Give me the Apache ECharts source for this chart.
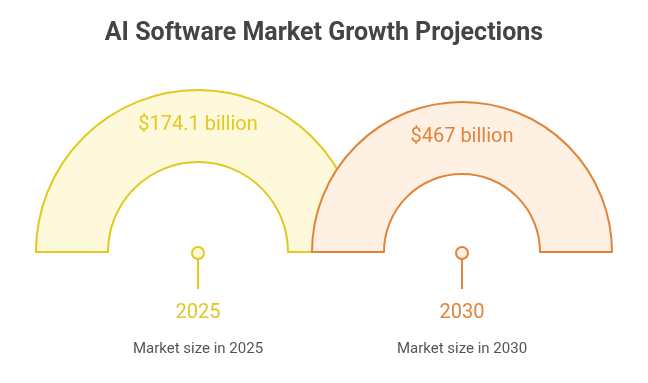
<!DOCTYPE html>
<html>
<head>
<meta charset="utf-8">
<script src="https://cdn.jsdelivr.net/npm/echarts@6/dist/echarts.min.js"></script>
<style>
html,body{margin:0;padding:0;background:#fff;}
#chart{width:648px;height:383px;}
</style>
</head>
<body>
<div id="chart"></div>
<script>
// ---- data ----
const years = ['2025', '2030'];
const marketValues = [174.1, 467];
const valueLabels = ['$174.1 billion', '$467 billion'];
const descriptions = ['Market size in 2025', 'Market size in 2030'];

// ---- styling / layout ----
const strokeColors = ['#E2C820', '#E0843A'];
const fillColors = ['#FEF9DA', '#FEF0E3'];
const centersX = [198, 462];
const baseY = 252;
const radii = [[90, 162], [78, 150]];
const font = 'Roboto, "Noto Sans", sans-serif';

const chart = echarts.init(document.getElementById('chart'), null, {renderer: 'canvas'});

const series = years.map((y, i) => ({
  type: 'pie',
  name: y,
  silent: true,
  animation: false,
  center: [centersX[i], baseY],
  radius: radii[i],
  startAngle: 180,
  endAngle: 0,
  z: 2 + i,
  itemStyle: {color: fillColors[i], borderColor: strokeColors[i], borderWidth: 2},
  label: {
    show: true,
    position: 'inside',
    formatter: () => valueLabels[i],
    color: strokeColors[i],
    fontFamily: font,
    fontSize: 20,
    fontWeight: 'normal',
    offset: [0, 2]
  },
  labelLine: {show: false},
  data: [{name: y, value: marketValues[i]}]
}));

const graphics = [];
years.forEach((y, i) => {
  const cx = centersX[i];
  graphics.push({
    type: 'line', z: 10,
    shape: {x1: cx, y1: baseY + 7, x2: cx, y2: 289},
    style: {stroke: strokeColors[i], lineWidth: 2}
  });
  graphics.push({
    type: 'circle', z: 11,
    shape: {cx: cx, cy: baseY + 1, r: 6},
    style: {fill: fillColors[i], stroke: strokeColors[i], lineWidth: 2}
  });
  graphics.push({
    type: 'text', z: 11,
    x: cx, y: 313,
    style: {text: y, fill: strokeColors[i], font: '20px ' + font, textAlign: 'center', textVerticalAlign: 'middle'}
  });
  graphics.push({
    type: 'text', z: 11,
    x: cx, y: 349,
    style: {text: descriptions[i], fill: '#555555', font: '15px ' + font, textAlign: 'center', textVerticalAlign: 'middle'}
  });
});

chart.setOption({
  backgroundColor: '#ffffff',
  animation: false,
  title: {
    text: 'AI Software Market Growth Projections',
    left: 'center',
    top: 16,
    textStyle: {fontFamily: font, fontSize: 25, fontWeight: 'bold', color: '#444444'}
  },
  series: series,
  graphic: graphics
});
</script>
</body>
</html>
